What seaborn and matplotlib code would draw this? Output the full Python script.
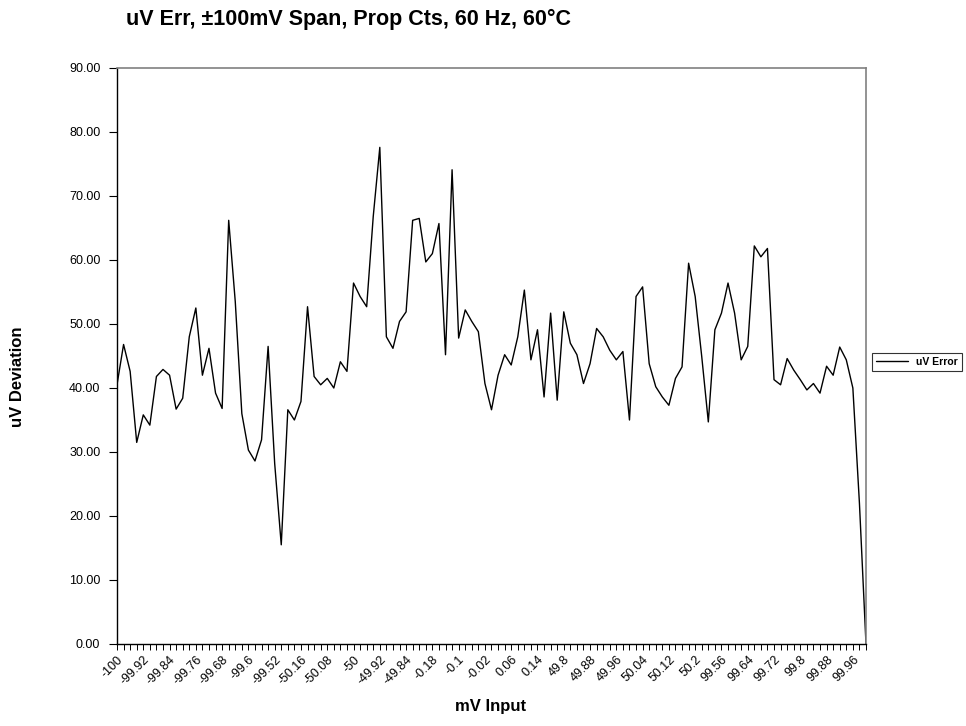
import numpy as np
import pandas as pd

import matplotlib
matplotlib.use("Agg")
import matplotlib.pyplot as plt
import seaborn as sns

sns.set_style("ticks")
plt.rcParams["font.family"] = ["Liberation Sans", "DejaVu Sans"]
for key in ["text.color", "axes.labelcolor", "xtick.color", "ytick.color"]:
    plt.rcParams[key] = "black"

# --- data ---
tick_labels = [
    "-100", "-99.92", "-99.84", "-99.76", "-99.68", "-99.6", "-99.52",
    "-50.16", "-50.08", "-50", "-49.92", "-49.84",
    "-0.18", "-0.1", "-0.02", "0.06", "0.14",
    "49.8", "49.88", "49.96", "50.04", "50.12", "50.2",
    "99.56", "99.64", "99.72", "99.8", "99.88", "99.96",
]

uv_error = [
    40.5, 46.8, 42.6, 31.5, 35.8, 34.2, 41.8, 42.9, 42.0, 36.7,
    38.4, 48.0, 52.5, 42.0, 46.2, 39.2, 36.8, 66.2, 53.5, 36.0,
    30.3, 28.6, 31.9, 46.5, 28.2, 15.5, 36.6, 35.0, 37.9, 52.7,
    41.8, 40.5, 41.5, 40.0, 44.1, 42.6, 56.4, 54.3, 52.7, 66.8,
    77.6, 48.0, 46.2, 50.4, 51.9, 66.2, 66.5, 59.7, 61.0, 65.7,
    45.2, 74.1, 47.8, 52.2, 50.4, 48.8, 40.7, 36.6, 42.0, 45.2,
    43.6, 48.0, 55.3, 44.4, 49.1, 38.6, 51.7, 38.1, 51.9, 47.0,
    45.2, 40.7, 43.8, 49.3, 48.0, 45.9, 44.4, 45.7, 35.0, 54.3,
    55.8, 43.8, 40.2, 38.6, 37.3, 41.5, 43.3, 59.5, 54.3, 44.9,
    34.7, 49.1, 51.7, 56.4, 51.7, 44.4, 46.5, 62.2, 60.5, 61.8,
    41.3, 40.5, 44.6, 42.8, 41.3, 39.7, 40.7, 39.2, 43.4, 42.0,
    46.4, 44.4, 40.0, 22.0, 0.0,
]

label_every = 4

df = pd.DataFrame({"idx": np.arange(len(uv_error)), "uv": uv_error})

fig = plt.figure(figsize=(9.66, 7.26), dpi=100)
ax = fig.add_axes([117 / 966, 82 / 726, 749 / 966, 576 / 726])

sns.lineplot(data=df, x="idx", y="uv", ax=ax, color="black", linewidth=1.0,
             label="uV Error", legend=False)

ax.set_xlim(0, len(uv_error) - 1)
ax.set_ylim(0, 90)

# y axis
ax.set_yticks(np.arange(0, 91, 10))
ax.set_yticklabels([f"{v:.2f}" for v in np.arange(0, 91, 10)], fontsize=9)
ax.tick_params(axis="y", direction="out", length=6, width=0.8, pad=6)

# x axis: a tick on every category, a label on every 4th
ax.set_xticks(np.arange(len(uv_error)), minor=True)
ax.set_xticks(np.arange(len(tick_labels)) * label_every)
ax.set_xticklabels(tick_labels, fontsize=9, rotation=45, ha="right",
                   va="top", rotation_mode="anchor")
ax.tick_params(axis="x", which="both", direction="out", length=4, width=0.7, pad=3)

for side in ["left", "bottom"]:
    ax.spines[side].set_color("black")
    ax.spines[side].set_linewidth(1.0)
for side in ["top", "right"]:
    ax.spines[side].set_color("#808080")
    ax.spines[side].set_linewidth(1.2)

ax.set_xlabel("")
ax.set_ylabel("")
fig.text(491 / 966, 1 - 707 / 726, "mV Input", ha="center", va="center",
         fontsize=12, fontweight="bold")
fig.text(18 / 966, 1 - 377 / 726, "uV Deviation", ha="center", va="center",
         rotation=90, fontsize=12, fontweight="bold")
fig.text(348 / 966, 1 - 19 / 726, "uV Err, \u00b1100mV Span, Prop Cts, 60 Hz, 60\u00b0C",
         ha="center", va="center", fontsize=15.5, fontweight="bold")

leg = fig.legend(handles=ax.get_lines()[:1], labels=["uV Error"],
                 loc="center", bbox_to_anchor=(917 / 966, 1 - 362 / 726),
                 frameon=True, fancybox=False, edgecolor="black",
                 prop={"size": 7.5, "weight": "bold"}, handlelength=3.0,
                 borderpad=0.4, handletextpad=0.8)
leg.get_frame().set_linewidth(0.8)

fig.savefig("out.png", dpi=100, facecolor="white")
